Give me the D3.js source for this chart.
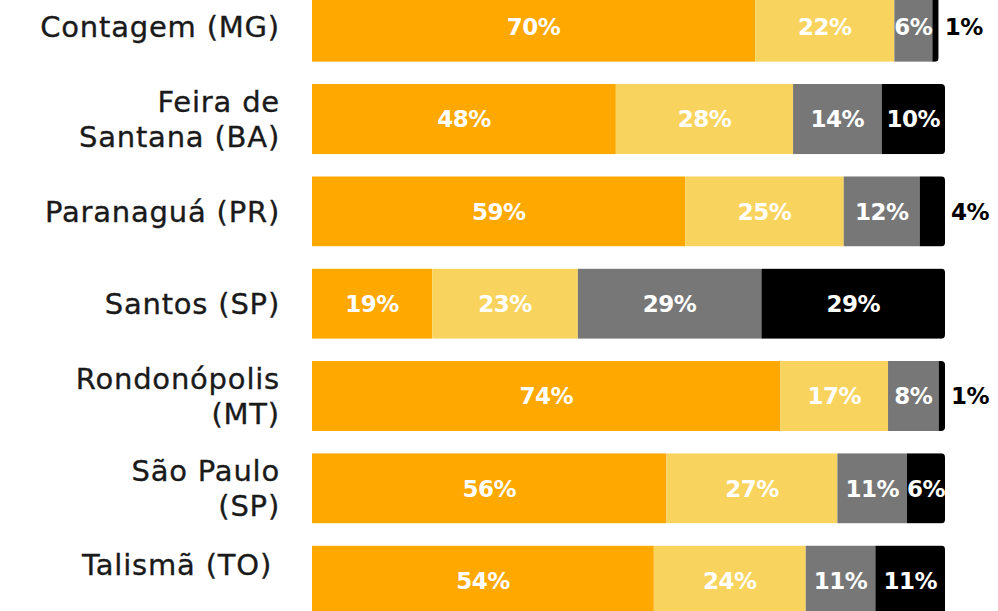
<!DOCTYPE html>
<html>
<head>
<meta charset="utf-8">
<script src="https://cdn.jsdelivr.net/npm/d3@7"></script>
<style>
  html, body { margin: 0; padding: 0; background: #fff; overflow: hidden; }
  svg { display: block; }
</style>
</head>
<body>
<div id="chart"></div>
<script>
// rows, top to bottom
const cities = [
  ['Contagem (MG)'],
  ['Feira de', 'Santana (BA)'],
  ['Paranaguá (PR)'],
  ['Santos (SP)'],
  ['Rondonópolis', '(MT)'],
  ['São Paulo', '(SP)'],
  ['Talismã (TO)']
]
const groups = ['a', 'b', 'c', 'd']
const valA = [70, 48, 59, 19, 74, 56, 54]
const valB = [22, 28, 25, 23, 17, 27, 24]
const valC = [6, 14, 12, 29, 8, 11, 11]
const valD = [1, 10, 4, 29, 1, 6, 11]

const colors = ['#ffa800', '#f8d45e', '#777777', '#000000']

const W = 998, H = 611
const ml = 312, xEnd = 945
const labelFont = '"DejaVu Sans", sans-serif'
// the last name sits a little higher and further left in the original
const nudge = { r6: { dx: -8, dy: -16 } }

const rows = cities.map((name, i) => {
  const vals = [valA[i], valB[i], valC[i], valD[i]]
  let acc = 0
  const segs = vals.map((v, k) => {
    const s = { key: groups[k], v, x0: acc, x1: acc + v, k }
    acc += v
    return s
  })
  return { id: 'r' + i, name, segs, total: acc }
})

const svg = d3.select('#chart').append('svg')
  .attr('width', W).attr('height', H)
  .attr('viewBox', `0 0 ${W} ${H}`)

const x = d3.scaleLinear().domain([0, 100]).range([ml, xEnd])
const y = d3.scaleBand()
  .domain(rows.map(d => d.id))
  .range([-8.3, 615.7])
  .paddingInner(0.24)
  .paddingOuter(0)

const bw = y.bandwidth()
const r = 4

// right-rounded outline, used as clip for each row
const roundRight = (x0, x1, y0, h) => {
  const p = d3.path()
  p.moveTo(x0, y0)
  p.lineTo(x1 - r, y0)
  p.arcTo(x1, y0, x1, y0 + r, r)
  p.lineTo(x1, y0 + h - r)
  p.arcTo(x1, y0 + h, x1 - r, y0 + h, r)
  p.lineTo(x0, y0 + h)
  p.closePath()
  return p.toString()
}

const defs = svg.append('defs')
defs.selectAll('clipPath').data(rows).join('clipPath')
  .attr('id', d => 'clip-' + d.id)
  .append('path')
  .attr('d', d => roundRight(x(0), x(d.total), y(d.id), bw))

const row = svg.selectAll('g.row').data(rows).join('g')
  .attr('class', 'row')

row.append('g')
  .attr('clip-path', d => `url(#clip-${d.id})`)
  .selectAll('rect').data(d => d.segs.map(s => ({ ...s, id: d.id })))
  .join('rect')
  .attr('x', s => x(s.x0))
  .attr('y', s => y(s.id))
  .attr('width', s => x(s.x1) - x(s.x0))
  .attr('height', bw)
  .attr('fill', s => colors[s.k])

// percentage labels, small shares go outside the bar
row.selectAll('text.pct').data(d => d.segs.map(s => ({ ...s, id: d.id, total: d.total })))
  .join('text')
  .attr('class', 'pct')
  .attr('x', s => s.v < 5 ? x(s.total) + 6 : (x(s.x0) + x(s.x1)) / 2)
  .attr('y', s => y(s.id) + bw / 2)
  .attr('dy', '0.36em')
  .attr('text-anchor', s => s.v < 5 ? 'start' : 'middle')
  .attr('fill', s => s.v < 5 ? '#000' : '#fff')
  .style('font-family', labelFont)
  .style('font-weight', 700)
  .style('font-size', '23px')
  .style('letter-spacing', '-0.5px')
  .text(s => s.v + '%')

// city names
const lh = 35
const nx = d => 280 + (nudge[d.id] ? nudge[d.id].dx : 0)
row.append('text')
  .attr('class', 'city')
  .attr('text-anchor', 'end')
  .attr('x', nx)
  .attr('y', d => y(d.id) + bw / 2 - (d.name.length - 1) * lh / 2 + (nudge[d.id] ? nudge[d.id].dy : 0))
  .attr('fill', '#1a1a1a')
  .attr('stroke', '#1a1a1a')
  .attr('stroke-width', 0.35)
  .style('font-family', labelFont)
  .style('font-size', '29px')
  .style('letter-spacing', '0.8px')
  .selectAll('tspan').data(d => d.name.map(t => ({ t, x: nx(d) }))).join('tspan')
  .attr('x', t => t.x)
  .attr('dy', (t, i) => i === 0 ? '0.36em' : lh)
  .text(t => t.t)
</script>
</body>
</html>
